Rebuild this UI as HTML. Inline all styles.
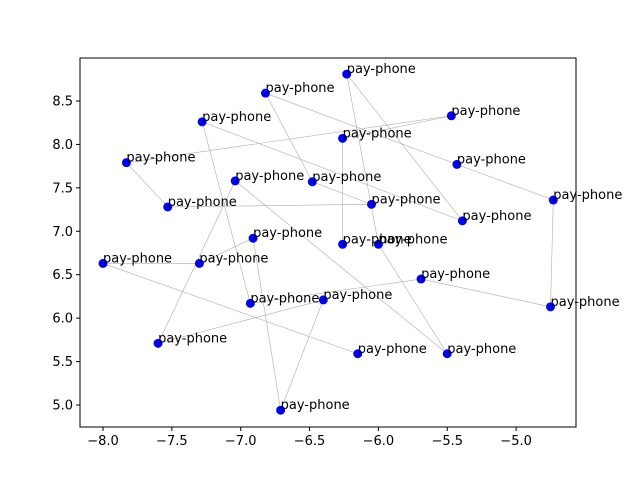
<!DOCTYPE html>
<html><head><meta charset="utf-8"><style>
body{margin:0;background:#fff;}
svg{display:block;font-family:"DejaVu Sans","Liberation Sans",sans-serif;}
</style></head><body>
<svg id="chart" width="640" height="480"></svg>
<script>
const labels = ["pay-phone"];
const xs = [-6.15,-8.00,-7.30,-6.91,-6.71,-6.40,-7.60,-7.04,-5.50,-6.00,-6.23,-5.39,-7.28,-6.93,-5.69,-4.75,-4.73,-5.43,-6.82,-6.48,-6.05,-7.53,-7.83,-5.47,-6.26,-6.26];
const ys = [5.59,6.63,6.63,6.92,4.94,6.21,5.71,7.58,5.59,6.85,8.81,7.12,8.26,6.17,6.45,6.13,7.36,7.77,8.59,7.57,7.31,7.28,7.79,8.33,8.07,6.85];
const xTicks = [-8.0,-7.5,-7.0,-6.5,-6.0,-5.5,-5.0];
const yTicks = [5.0,5.5,6.0,6.5,7.0,7.5,8.0,8.5];

const NS="http://www.w3.org/2000/svg";
const svg=document.getElementById('chart');
const L=80,R=576,T=58,B=427;
function sx(v){return 103+(v+8)*137.7;}
function sy(v){return 405-(v-5)*86.86;}
function mk(tag,attrs,parent){const e=document.createElementNS(NS,tag);for(const k in attrs)e.setAttribute(k,attrs[k]);(parent||svg).appendChild(e);return e;}

const line=mk('polyline',{points:xs.map((x,i)=>sx(x)+','+sy(ys[i])).join(' '),fill:'none',stroke:'#999',"stroke-width":0.6,"stroke-opacity":0.8});



xs.forEach((x,i)=>{
  const c=mk('circle',{cx:sx(x),cy:sy(ys[i]),r:4.5,fill:'#0000ff'});
  
  
});
xs.forEach((x,i)=>{
  const t=mk('text',{x:sx(x),y:sy(ys[i])-1,"font-size":13,fill:'#000'});
  t.textContent=labels[0];
  
  
});

const frame=mk('rect',{x:L,y:T,width:R-L,height:B-T,fill:'none',stroke:'#000',"stroke-width":1});



xTicks.forEach(v=>{
  const X=sx(v);
  const tk=mk('line',{x1:X,x2:X,y1:B,y2:B+4,stroke:'#000'});
  
  
  const t=mk('text',{x:X,y:B+18,"font-size":13,"text-anchor":"middle"});
  t.textContent=v.toFixed(1).replace('-','\u2212');
  
  
});
yTicks.forEach(v=>{
  const Y=sy(v);
  const tk=mk('line',{x1:L-4,x2:L,y1:Y,y2:Y,stroke:'#000'});
  
  
  const t=mk('text',{x:L-7,y:Y+4.5,"font-size":13,"text-anchor":"end"});
  t.textContent=v.toFixed(1);
  
  
});
</script>
</body></html>
